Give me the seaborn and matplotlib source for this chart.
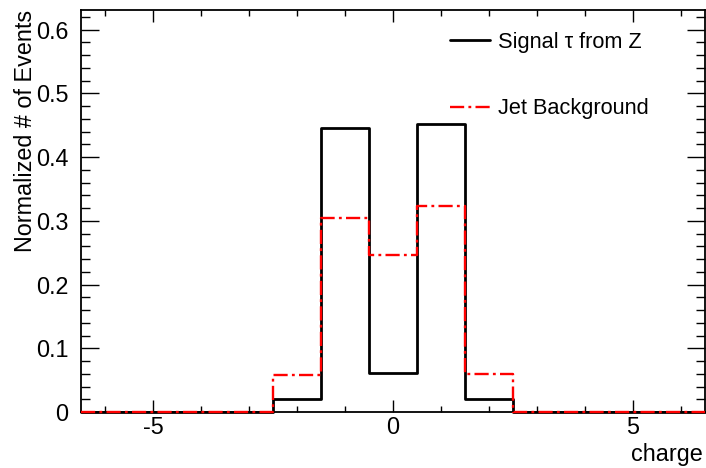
import numpy as np
import pandas as pd
import matplotlib
matplotlib.use("Agg")
import matplotlib.pyplot as plt
import seaborn as sns
from matplotlib.ticker import MultipleLocator, FuncFormatter

# Charge distributions (normalized), one bin per integer charge
charge_bins = [-6, -5, -4, -3, -2, -1, 0, 1, 2, 3, 4, 5, 6]
signal_frac = [0, 0, 0, 0, 0.020, 0.446, 0.062, 0.452, 0.020, 0, 0, 0, 0]
jet_frac = [0, 0, 0, 0, 0.058, 0.305, 0.247, 0.323, 0.060, 0, 0, 0, 0]
series_labels = ["Signal \u03c4 from Z", "Jet Background"]

sns.set_style("ticks")
plt.rcParams["font.family"] = ["Liberation Sans", "DejaVu Sans"]
plt.rcParams["axes.unicode_minus"] = False
plt.rcParams["text.color"] = "black"
plt.rcParams["xtick.color"] = "black"
plt.rcParams["ytick.color"] = "black"
plt.rcParams["axes.edgecolor"] = "black"

fig = plt.figure(figsize=(7.06, 4.68), dpi=100)
ax = fig.add_axes([81 / 706, 1 - 412 / 468, 624 / 706, 402 / 468])

df = pd.DataFrame({"charge": charge_bins, "signal": signal_frac, "jet": jet_frac})
edges = list(np.arange(-6.5, 7.0, 1.0))
sns.histplot(data=df, x="charge", weights="signal", bins=edges, element="step",
             fill=False, color="black", linewidth=2, ax=ax)
sns.histplot(data=df, x="charge", weights="jet", bins=edges, element="step",
             fill=False, color="red", linewidth=1.7, ax=ax)
lines = ax.lines
lines[0].set_zorder(3)
lines[1].set_dashes([6, 1.8, 1.2, 1.8])
lines[1].set_zorder(4)
for ln in lines:
    ln.set_clip_on(False)

ax.set_xlim(-6.5, 6.5)
ax.set_ylim(0, 0.631)
ax.set_xlabel("")
ax.set_ylabel("")

ax.xaxis.set_major_locator(MultipleLocator(5))
ax.xaxis.set_minor_locator(MultipleLocator(1))
ax.yaxis.set_major_locator(MultipleLocator(0.1))
ax.yaxis.set_minor_locator(MultipleLocator(0.02))
ax.yaxis.set_major_formatter(FuncFormatter(lambda v, p: "0" if abs(v) < 1e-9 else f"{v:.1f}"))
ax.xaxis.set_major_formatter(FuncFormatter(lambda v, p: f"{v:.0f}"))

for s in ax.spines.values():
    s.set_linewidth(1.3)
    s.set_color("black")
    s.set_visible(True)
ax.tick_params(axis="both", which="both", direction="in", top=True, right=True,
               labelsize=16.8, width=1.0, color="black", labelcolor="black")
ax.tick_params(axis="x", which="major", length=8.5, pad=3)
ax.tick_params(axis="x", which="minor", length=4.3)
ax.tick_params(axis="y", which="major", length=12.7, pad=9)
ax.tick_params(axis="y", which="minor", length=6.4)

leg = ax.legend(handles=[lines[0], lines[1]], labels=series_labels, loc="upper left",
                bbox_to_anchor=(0.577, 0.968), frameon=False, fontsize=15.7,
                handlelength=1.85, handletextpad=0.35, labelspacing=2.1,
                borderaxespad=0)
for t in leg.get_texts():
    t.set_color("black")

fig.text(703 / 706, 1 - 461 / 468, "charge", ha="right", va="baseline",
         fontsize=16.8, color="black")
fig.text(32 / 706, 1 - 10 / 468, "Normalized # of Events", rotation=90,
         rotation_mode="anchor", ha="right", va="baseline", fontsize=16.8,
         color="black")

fig.savefig("out.png", dpi=100)
